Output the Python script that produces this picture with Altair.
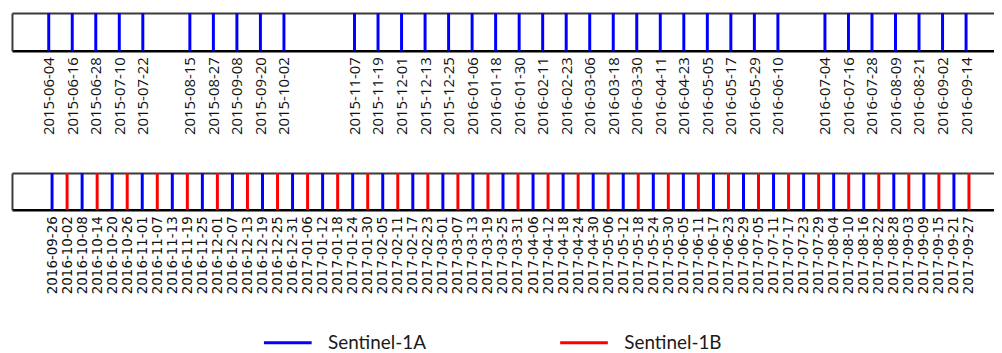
import altair as alt
import pandas as pd

top_dates = [
    "2015-06-04", "2015-06-16", "2015-06-28", "2015-07-10", "2015-07-22",
    "2015-08-15", "2015-08-27", "2015-09-08", "2015-09-20", "2015-10-02",
    "2015-11-07", "2015-11-19", "2015-12-01", "2015-12-13", "2015-12-25",
    "2016-01-06", "2016-01-18", "2016-01-30", "2016-02-11", "2016-02-23",
    "2016-03-06", "2016-03-18", "2016-03-30", "2016-04-11", "2016-04-23",
    "2016-05-05", "2016-05-17", "2016-05-29", "2016-06-10",
    "2016-07-04", "2016-07-16", "2016-07-28", "2016-08-09", "2016-08-21",
    "2016-09-02", "2016-09-14",
]
top_sats = ["Sentinel-1A"] * len(top_dates)

bottom_dates = [
    "2016-09-26", "2016-10-02", "2016-10-08", "2016-10-14", "2016-10-20",
    "2016-10-26", "2016-11-01", "2016-11-07", "2016-11-13", "2016-11-19",
    "2016-11-25", "2016-12-01", "2016-12-07", "2016-12-13", "2016-12-19",
    "2016-12-25", "2016-12-31", "2017-01-06", "2017-01-12", "2017-01-18",
    "2017-01-24", "2017-01-30", "2017-02-05", "2017-02-11", "2017-02-17",
    "2017-02-23", "2017-03-01", "2017-03-07", "2017-03-13", "2017-03-19",
    "2017-03-25", "2017-03-31", "2017-04-06", "2017-04-12", "2017-04-18",
    "2017-04-24", "2017-04-30", "2017-05-06", "2017-05-12", "2017-05-18",
    "2017-05-24", "2017-05-30", "2017-06-05", "2017-06-11", "2017-06-17",
    "2017-06-23", "2017-06-29", "2017-07-05", "2017-07-11", "2017-07-17",
    "2017-07-23", "2017-07-29", "2017-08-04", "2017-08-10", "2017-08-16",
    "2017-08-22", "2017-08-28", "2017-09-03", "2017-09-09", "2017-09-15",
    "2017-09-21", "2017-09-27",
]
bottom_sats = ["Sentinel-1A", "Sentinel-1B"] * (len(bottom_dates) // 2)

sat_names = ["Sentinel-1A", "Sentinel-1B"]
sat_colors = ["#0000ff", "#ff0000"]

top_df = pd.DataFrame({"date": top_dates, "sat": top_sats})
bot_df = pd.DataFrame({"date": bottom_dates, "sat": bottom_sats})


def ms(dates):
    return [int(v) for v in (pd.to_datetime(dates).astype("int64") // 10**6)]


color = alt.Color(
    "sat:N",
    scale=alt.Scale(domain=sat_names, range=sat_colors),
    legend=alt.Legend(
        title=None, orient="none", direction="horizontal",
        legendX=252, legendY=306,
        symbolType="stroke", symbolSize=2304, symbolStrokeWidth=3,
        labelFont="Lato", labelFontSize=19, labelOffset=15,
        labelColor="#1a1a1a", columnPadding=128,
    ),
)


def panel(df, dates, domain, font, size, h):
    xscale = alt.Scale(type="utc", domain=domain)
    rules = alt.Chart(df).mark_rule(strokeWidth=3).encode(
        x=alt.X(
            "date:T", scale=xscale,
            axis=alt.Axis(
                orient="bottom",
                values=ms(dates), title=None, grid=False, ticks=False,
                labelExpr="utcFormat(datum.value, '%Y-%m-%d')",
                labelAngle=270, labelFont=font, labelFontSize=size,
                labelColor="#111", labelPadding=6,
                labelOverlap=False, labelBound=False, labelFlush=False,
                domainColor="#000", domainWidth=2.5,
            ),
        ),
        color=color,
    )
    frame = alt.Chart(df).transform_calculate(v="0").mark_point(opacity=0).encode(
        x=alt.X(
            "date:T", scale=xscale,
            axis=alt.Axis(orient="top", labels=False, ticks=False, grid=False,
                          title=None, domainColor="#3a3a3a", domainWidth=2),
        ),
        y=alt.Y(
            "v:Q", scale=alt.Scale(domain=[0, 1]),
            axis=alt.Axis(orient="left", labels=False, ticks=False, grid=False,
                          title=None, domainColor="#3a3a3a", domainWidth=2),
        ),
    )
    return alt.layer(rules, frame).resolve_axis(x="independent").properties(
        width=988, height=h
    )


top = panel(
    top_df, top_dates,
    [alt.DateTime(year=2015, month=5, date=16, hours=6, utc=True),
     alt.DateTime(year=2016, month=9, date=28, hours=6, utc=True)],
    "Open Sans", 15, 38,
)

bot = panel(
    bot_df, bottom_dates,
    [alt.DateTime(year=2016, month=9, date=10, utc=True),
     alt.DateTime(year=2017, month=10, date=7, utc=True)],
    "DejaVu Sans", 13.5, 37,
)

chart = alt.vconcat(top, bot, spacing=123, bounds="flush").properties(
    padding={"left": 4, "top": 2, "right": 0, "bottom": 0}
).configure_view(stroke=None)

chart.save("out.html", embed_options={"renderer": "svg", "actions": False})
